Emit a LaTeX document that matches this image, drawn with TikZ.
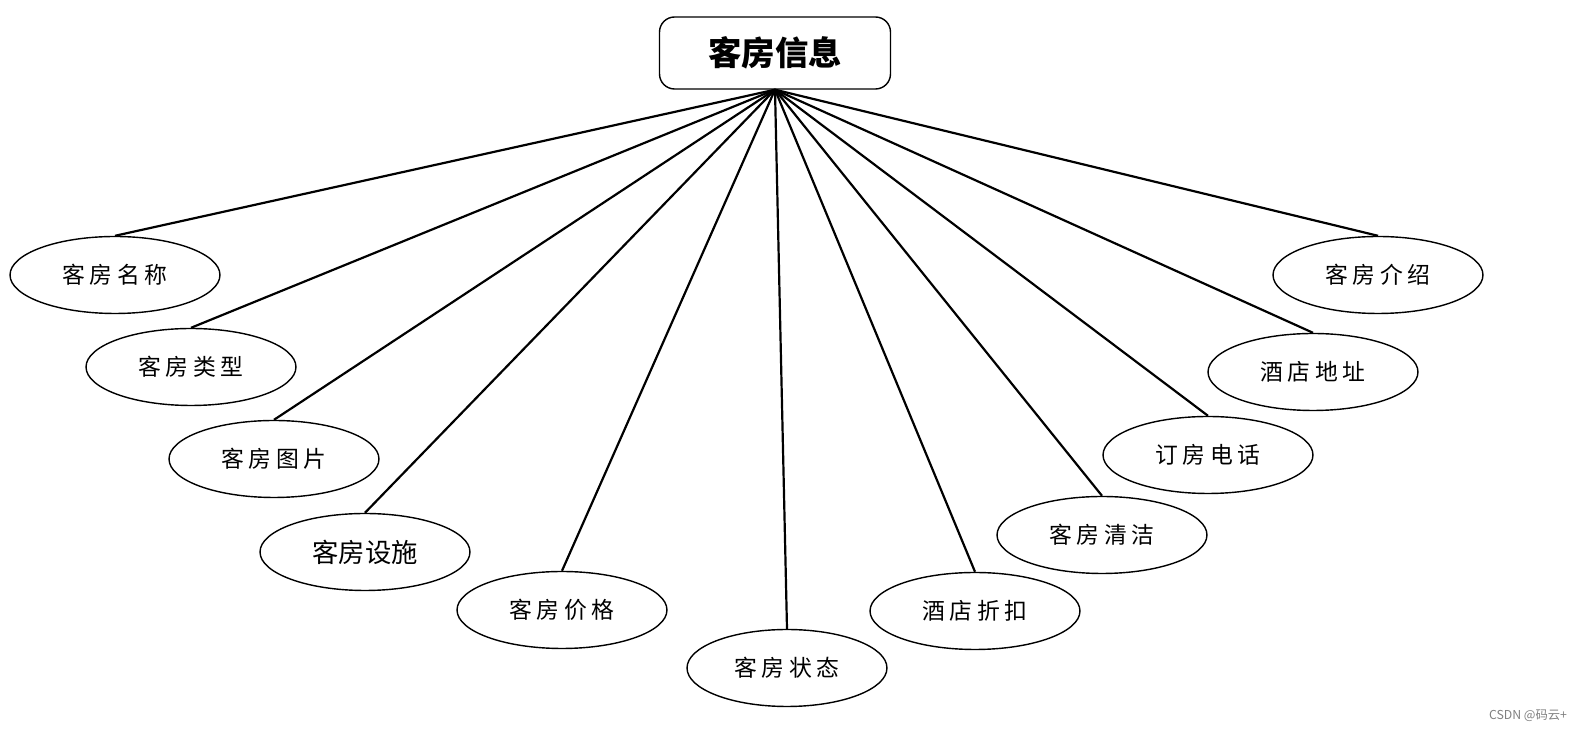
\documentclass[tikz,border=0pt]{standalone}
\usepackage{fontspec}
\usepackage{tikz}
\usetikzlibrary{shapes.geometric}
\newfontfamily\cjk{Noto Sans CJK SC}
\newfontfamily\cjkwide[LetterSpace=20]{Noto Sans CJK SC}

\begin{document}
\begin{tikzpicture}[x=0.02cm,y=-0.02cm]
    % Style definitions for the entity and its attributes
    \tikzset{
        % the entity box on top
        entity/.style={draw, rounded corners=0.3cm, line width=0.8pt, fill=white,
            minimum width=4.62cm, minimum height=1.44cm,
            font=\cjk\bfseries\fontsize{19}{22}\selectfont},
        % one attribute ellipse
        attr/.style={draw, ellipse, line width=0.8pt, fill=white,
            minimum width=4.2cm, minimum height=1.54cm,
            font=\cjkwide\fontsize{13}{16}\selectfont},
        % connector from entity to attribute
        link/.style={line width=1.25pt}
    }
    \useasboundingbox (0,0) rectangle (1587,732);

    % Entity
    \node[entity] (A1) at (775, 53) {客房信息};

    % Attributes, left half
    \node[attr] (B1) at (115, 275) {客房名称};
    \node[attr] (B2) at (191, 367) {客房类型};
    \node[attr] (B3) at (274, 459) {客房图片};
    \node[attr, font=\cjk\fontsize{15}{18}\selectfont] (B4) at (365, 552) {客房设施};
    \node[attr] (B5) at (562, 610) {客房价格};

    % Attribute at the bottom
    \node[attr, minimum width=4cm] (B6) at (787, 668) {客房状态};

    % Attributes, right half
    \node[attr] (B7) at (975, 611) {酒店折扣};
    \node[attr] (B8) at (1102, 535) {客房清洁};
    \node[attr] (B9) at (1208, 455) {订房电话};
    \node[attr] (B10) at (1313, 372) {酒店地址};
    \node[attr] (B11) at (1378, 275) {客房介绍};

    % Edges between entity and attributes
    \draw[link] (A1.south) -- (B1.north);
    \draw[link] (A1.south) -- (B2.north);
    \draw[link] (A1.south) -- (B3.north);
    \draw[link] (A1.south) -- (B4.north);
    \draw[link] (A1.south) -- (B5.north);
    \draw[link] (A1.south) -- (B6.north);
    \draw[link] (A1.south) -- (B7.north);
    \draw[link] (A1.south) -- (B8.north);
    \draw[link] (A1.south) -- (B9.north);
    \draw[link] (A1.south) -- (B10.north);
    \draw[link] (A1.south) -- (B11.north);

    % Watermark
    \node[text=gray, font=\cjk\fontsize{7}{8}\selectfont] (W1) at (1528, 716) {CSDN @码云+};
\end{tikzpicture}
\end{document}
